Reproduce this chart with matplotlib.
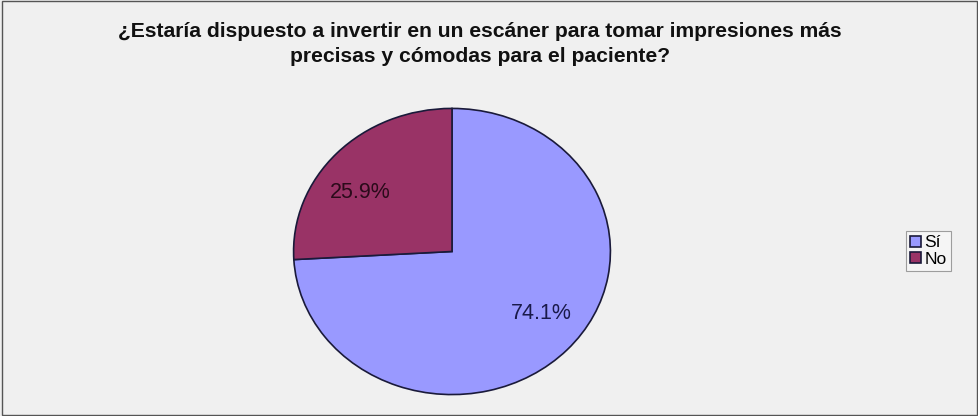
import matplotlib.pyplot as plt
from matplotlib.patches import Rectangle
from matplotlib import font_manager

categorias = ['Sí', 'No']
porcentajes = [74.1, 25.9]
colores = ['#9999FF', '#993366']

titulo = ('¿Estaría dispuesto a invertir en un escáner para tomar impresiones más\n'
          'precisas y cómodas para el paciente?')

# fuente estrecha si existe
nombres = {f.name for f in font_manager.fontManager.ttflist}
fuente_titulo = 'Liberation Sans Narrow' if 'Liberation Sans Narrow' in nombres else 'Liberation Sans'

fig = plt.figure(figsize=(9.79, 4.16), dpi=100, facecolor='#F0F0F0')
fig.patches.append(Rectangle((0.002, 0.003), 0.996, 0.994, transform=fig.transFigure,
                             fill=False, edgecolor='#555555', linewidth=1))

ax = fig.add_axes([292 / 979, 20 / 416, 320 / 979, 289 / 416])
ax.set_facecolor('none')

wedges, textos, autotextos = ax.pie(
    porcentajes, colors=colores, startangle=90, counterclock=False,
    autopct='%.1f%%', pctdistance=0.71,
    wedgeprops=dict(edgecolor='#1a1a3a', linewidth=1.2),
    textprops=dict(fontsize=15.5, family='Liberation Sans'))
autotextos[0].set_color('#1a1a4a')
autotextos[1].set_color('#2a0a1a')
# las etiquetas del original están algo giradas respecto al centro de cada sector
autotextos[0].set_position((0.5625, -0.436))
autotextos[1].set_position((-0.58, 0.41))
ax.set_aspect('auto')
ax.set_xlim(-1.01, 1.01)
ax.set_ylim(-1.01, 1.01)

fig.text(480 / 979, 1 - 22 / 416, titulo, ha='center', va='top', fontsize=15.2,
         fontweight='bold', family=fuente_titulo, color='#111111', linespacing=1.4)

leg = fig.legend(wedges, categorias, loc='center left', bbox_to_anchor=(906 / 979, 1 - 251 / 416),
                 frameon=True, fancybox=False, edgecolor='#888888', handlelength=0.6,
                 handleheight=0.6, handletextpad=0.2, borderpad=0.25, labelspacing=0.1,
                 borderaxespad=0, prop=dict(family='Liberation Sans', size=12.5))
leg.get_frame().set_facecolor('#F7F7F7')
leg.get_frame().set_linewidth(0.8)

fig.savefig('out.png', dpi=100, facecolor=fig.get_facecolor())
